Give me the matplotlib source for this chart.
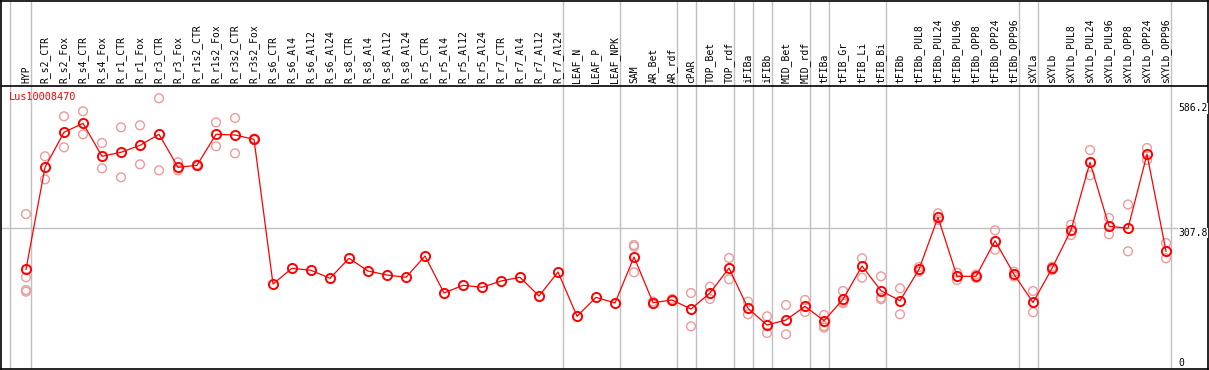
import matplotlib
matplotlib.use("Agg")
import matplotlib.pyplot as plt

# expression profile of Lus10008470 across tissues / treatments

gene = "Lus10008470"

samples = ["HYP", "R_s2_CTR", "R_s2_Fox", "R_s4_CTR", "R_s4_Fox", "R_r1_CTR", "R_r1_Fox",
           "R_r3_CTR", "R_r3_Fox", "R_r1s2_CTR", "R_r1s2_Fox", "R_r3s2_CTR", "R_r3s2_Fox",
           "R_s6_CTR", "R_s6_Al4", "R_s6_Al12", "R_s6_Al24", "R_s8_CTR", "R_s8_Al4",
           "R_s8_Al12", "R_s8_Al24", "R_r5_CTR", "R_r5_Al4", "R_r5_Al12", "R_r5_Al24",
           "R_r7_CTR", "R_r7_Al4", "R_r7_Al12", "R_r7_Al24", "LEAF_N", "LEAF_P", "LEAF_NPK",
           "SAM", "AR_Bet", "AR_rdf", "cPAR", "TOP_Bet", "TOP_rdf", "iFIBa", "iFIBb",
           "MID_Bet", "MID_rdf", "tFIBa", "tFIB_Gr", "tFIB_Li", "tFIB_Bi", "tFIBb",
           "tFIBb_PUL8", "tFIBb_PUL24", "tFIBb_PUL96", "tFIBb_OPP8", "tFIBb_OPP24",
           "tFIBb_OPP96", "sXYLa", "sXYLb", "sXYLb_PUL8", "sXYLb_PUL24", "sXYLb_PUL96",
           "sXYLb_OPP8", "sXYLb_OPP24", "sXYLb_OPP96"]

means = [219.1, 438.1, 513.2, 532.5, 461.7, 470.3, 485.3, 508.9, 438.1, 442.4, 508.9, 507.4, 498.2,
         187.6, 221.3, 217.0, 199.8, 242.8, 215.5, 206.9, 202.0, 247.7, 168.3, 184.8, 180.5,
         194.0, 202.0, 161.8, 213.4, 118.3, 159.0, 146.8,
         245.6, 147.5, 153.3, 133.9, 168.3, 221.9, 135.4, 99.6, 110.3, 139.7,
         108.8, 154.8, 226.2, 173.2, 151.8, 219.1, 330.8, 204.1, 204.1, 280.5, 208.4,
         147.9, 221.3, 303.5, 448.8, 311.5, 307.2, 466.0, 257.8]

replicates = [
    [337.8, 202.0, 174.7, 171.1],
    [461.7, 412.3], [547.5, 481.0], [558.3, 508.9], [490.2, 435.9],
    [523.9, 416.6], [528.2, 444.5], [586.2, 431.6], [448.8, 431.6],
    [444.1, 440.9], [534.6, 483.2], [543.9, 468.1], [499.9, 496.7],
    [], [], [], [], [], [], [], [], [], [], [], [], [], [], [], [],
    [], [], [],
    [271.3, 268.1, 212.7], [150.0, 144.7], [155.4, 151.1], [168.3, 96.8],
    [181.8, 155.4], [243.4, 197.7], [149.6, 122.6], [118.3, 82.4],
    [142.5, 79.6], [153.3, 127.5],
    [121.1, 97.4, 93.8], [172.6, 146.2, 149.6], [242.8, 201.1], [204.1, 158.2, 154.8],
    [178.4, 122.6], [224.1, 214.0], [339.3, 325.0], [211.9, 196.2], [208.0, 200.5],
    [302.9, 261.2], [214.0, 203.7],
    [172.6, 126.9], [224.7, 217.6], [314.9, 292.8], [475.2, 420.9], [329.3, 294.3],
    [358.3, 257.8], [479.5, 453.7], [275.6, 242.8],
]

# last sample of each tissue group (vertical separators)
group_ends = ["HYP", "R_r7_Al24", "LEAF_NPK", "AR_rdf", "cPAR", "TOP_rdf", "iFIBa", "iFIBb",
              "MID_rdf", "tFIBa", "tFIB_Bi", "tFIBb_OPP96", "sXYLa", "sXYLb_OPP96"]

scale_labels = ["586.2", "307.8", "0"]
scale_values = [586.2, 307.8, 0]

font = "DejaVu Sans Mono"

fig = plt.figure(figsize=(12.09, 3.70), dpi=100)
ax = fig.add_axes([1 / 1209, 1 / 370, 1207 / 1209, 368.5 / 370])

x = list(range(len(samples)))
plot_top = 612.6

ax.set_xlim(-1.316, 62.21)
ax.set_ylim(5.15, 796.1)

# grey separators
ax.axvline(-0.82, color="#c0c0c0", lw=1, zorder=0)
for name in group_ends:
    ax.axvline(samples.index(name) + 0.24, color="#c0c0c0", lw=1, zorder=0)
ax.axhline(307.8, color="#c0c0c0", lw=1, zorder=0)
ax.axhline(plot_top, color="black", lw=1.2, zorder=1)

# replicates
rx, ry = [], []
for i, reps in enumerate(replicates):
    for r in reps:
        rx.append(i)
        ry.append(r)
ax.scatter(rx, ry, s=40, facecolors="none", edgecolors="#ee9a9a", linewidths=1.0, zorder=2)

# means
ax.plot(x, means, "-", color="red", lw=0.9, zorder=3)
ax.plot(x, means, "o", mfc="none", mec="red", ms=6.6, mew=1.4, zorder=4)

# sample labels
for i, name in enumerate(samples):
    ax.annotate(name, xy=(i, plot_top), xytext=(0, 2), textcoords="offset points",
                rotation=90, ha="center", va="bottom", fontsize=7, family=font)

ax.text(-0.92, 589, gene, color="red", fontsize=7.4, family=font, ha="left", va="center")

# right hand scale
offsets = [-3.6, 0, 9.6]
for lab, v, dy in zip(scale_labels, scale_values, offsets):
    ax.annotate(lab, xy=(60.63, v), xytext=(0, dy), textcoords="offset points",
                ha="left", va="top", fontsize=7, family=font, annotation_clip=False,
                bbox=dict(facecolor="white", edgecolor="none", pad=0.3))

ax.set_xticks([])
ax.set_yticks([])
for s in ax.spines.values():
    s.set_color("black")
    s.set_linewidth(1.2)

fig.savefig("out.png", dpi=100)
